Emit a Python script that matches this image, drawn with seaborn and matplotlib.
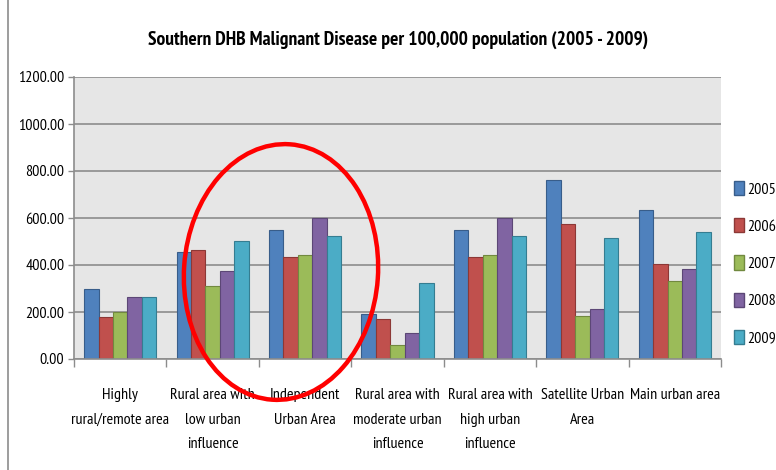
import pandas as pd
import matplotlib.pyplot as plt
import seaborn as sns
from matplotlib.patches import Ellipse
from matplotlib.ticker import FixedLocator

# categories and series
areas = ["Highly\nrural/remote area", "Rural area with\nlow urban\ninfluence",
         "Independent\nUrban Area", "Rural area with\nmoderate urban\ninfluence",
         "Rural area with\nhigh urban\ninfluence", "Satellite Urban\nArea",
         "Main urban area"]
years = ["2005", "2006", "2007", "2008", "2009"]
v2005 = [298, 457, 549, 192, 549, 761, 635]
v2006 = [178, 463, 436, 172, 436, 576, 405]
v2007 = [199, 311, 443, 60, 443, 184, 331]
v2008 = [264, 376, 602, 112, 602, 212, 385]
v2009 = [264, 503, 522, 325, 522, 515, 542]

colors = ["#4F81BD", "#C0504D", "#9BBB59", "#8064A2", "#4BACC6"]
edges = ["#385D8A", "#8C3836", "#71893F", "#5C4776", "#357D91"]

rows = []
for y, vals in zip(years, [v2005, v2006, v2007, v2008, v2009]):
    for a, v in zip(areas, vals):
        rows.append({"Area": a, "Year": y, "Rate": v})
df = pd.DataFrame(rows)

plt.rcParams['font.family'] = ['PT Sans Narrow', 'Roboto Condensed', 'DejaVu Sans']

fig = plt.figure(figsize=(7.76, 4.70), dpi=100)
ax = fig.add_axes([74/776, 1 - 359/470, (721-74)/776, (359-77)/470])
ax.set_facecolor("#E6E6E6")

sns.barplot(data=df, x="Area", y="Rate", hue="Year", palette=colors,
            width=0.78, ax=ax, saturation=1, legend=True)

# darker outlines per series
for cont, ec in zip(ax.containers, edges):
    for bar in cont:
        bar.set_edgecolor(ec)
        bar.set_linewidth(0.8)

ax.set_ylim(0, 1200)
ax.set_xlim(-0.5, 6.5)
ax.set_yticks(range(0, 1201, 200))
ax.set_yticklabels([f"{t:.2f}" for t in range(0, 1201, 200)], fontsize=11.5)
ax.yaxis.grid(True, color="#8C8C8C", linewidth=1.2)
ax.set_axisbelow(True)
ax.set_xlabel("")
ax.set_ylabel("")

# category tick marks between groups
ax.set_xticks(range(7))
ax.set_xticklabels(areas, fontsize=11.5, linespacing=1.95, va="top")
ax.tick_params(axis="x", length=0, pad=21)
ax.xaxis.set_minor_locator(FixedLocator([i - 0.5 for i in range(8)]))
ax.tick_params(axis="x", which="minor", length=6, color="#8C8C8C", width=1)
ax.tick_params(axis="y", length=4, color="#8C8C8C", width=1, pad=3)

for s in ["top", "right"]:
    ax.spines[s].set_visible(False)
ax.spines["left"].set_color("#8C8C8C")
ax.spines["bottom"].set_color("#8C8C8C")
ax.spines["left"].set_linewidth(1.2)
ax.spines["bottom"].set_linewidth(1.2)

leg = ax.legend(loc="upper left", bbox_to_anchor=(734/776, 1 - 181/470),
                bbox_transform=fig.transFigure, frameon=False, fontsize=11.5,
                handlelength=0.6, handleheight=1.0, handletextpad=0.2,
                labelspacing=1.35, borderaxespad=0, borderpad=0)
for h, ec in zip(leg.legend_handles, edges):
    h.set_edgecolor(ec)

fig.text(398/776, 1 - 40/470,
         "Southern DHB Malignant Disease per 100,000 population (2005 - 2009)",
         ha="center", va="center", fontsize=14, fontweight="bold")

# left frame line of the chart area
fig.add_artist(plt.Line2D([8/776, 8/776], [0, 1], color="#8C8C8C", linewidth=1.2))

# red hand-drawn circle
ell = Ellipse((281/100, (470 - 272)/100), 194/100, 256/100, angle=-4,
              fill=False, edgecolor="#FF0000", linewidth=3.2,
              transform=fig.dpi_scale_trans)
fig.add_artist(ell)

fig.savefig("out.png", dpi=100)
